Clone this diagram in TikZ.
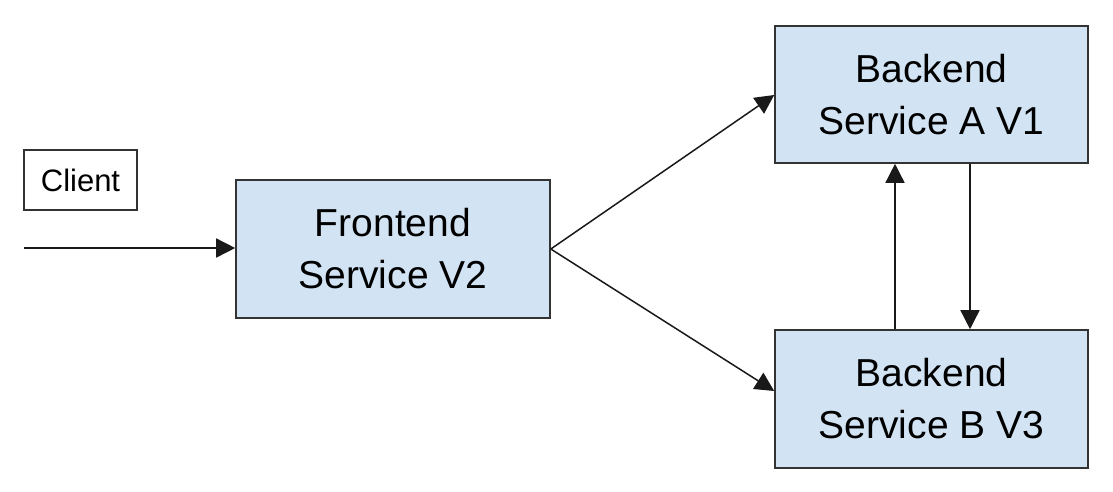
\documentclass[tikz,border=0pt]{standalone}
\usepackage{fontspec}
\setmainfont{Liberation Sans}
\usetikzlibrary{arrows.meta}
\definecolor{boxfill}{HTML}{D2E4F4}
\definecolor{boxline}{HTML}{333333}
\begin{document}
\begin{tikzpicture}[x=1pt,y=-1pt,
  svc/.style={draw=boxline,line width=1.6pt,fill=boxfill,inner sep=0pt,
    align=center,font=\fontsize{39}{52}\selectfont},
  conn/.style={line width=1.5pt,draw=black!90,-{Triangle[length=19pt,width=19pt]}}]
\useasboundingbox (0,0) rectangle (1113,491);
\node[svc,minimum width=314pt,minimum height=138pt] (fe) at (393,249) {Frontend\\Service V2};
\node[svc,minimum width=313pt,minimum height=137pt] (ba) at (931.5,94.5) {Backend\\Service A V1};
\node[svc,minimum width=313pt,minimum height=138pt] (bb) at (931.5,399) {Backend\\Service B V3};
\node[draw=boxline,line width=1.6pt,fill=white,minimum width=113pt,minimum height=60pt,
  inner sep=0pt,font=\fontsize{31}{34}\selectfont] (cl) at (80.5,180) {Client};
\coordinate (in) at (24,248);
\draw[conn] (in) -- (fe.west |- in);
\draw[conn] (fe.east) -- (ba.west |- 0,95);
\draw[conn] (fe.east) -- (bb.west |- 0,391);
\draw[conn] (bb.north -| 895,0) -- (ba.south -| 895,0);
\draw[conn] (ba.south -| 970,0) -- (bb.north -| 970,0);
\end{tikzpicture}
\end{document}
